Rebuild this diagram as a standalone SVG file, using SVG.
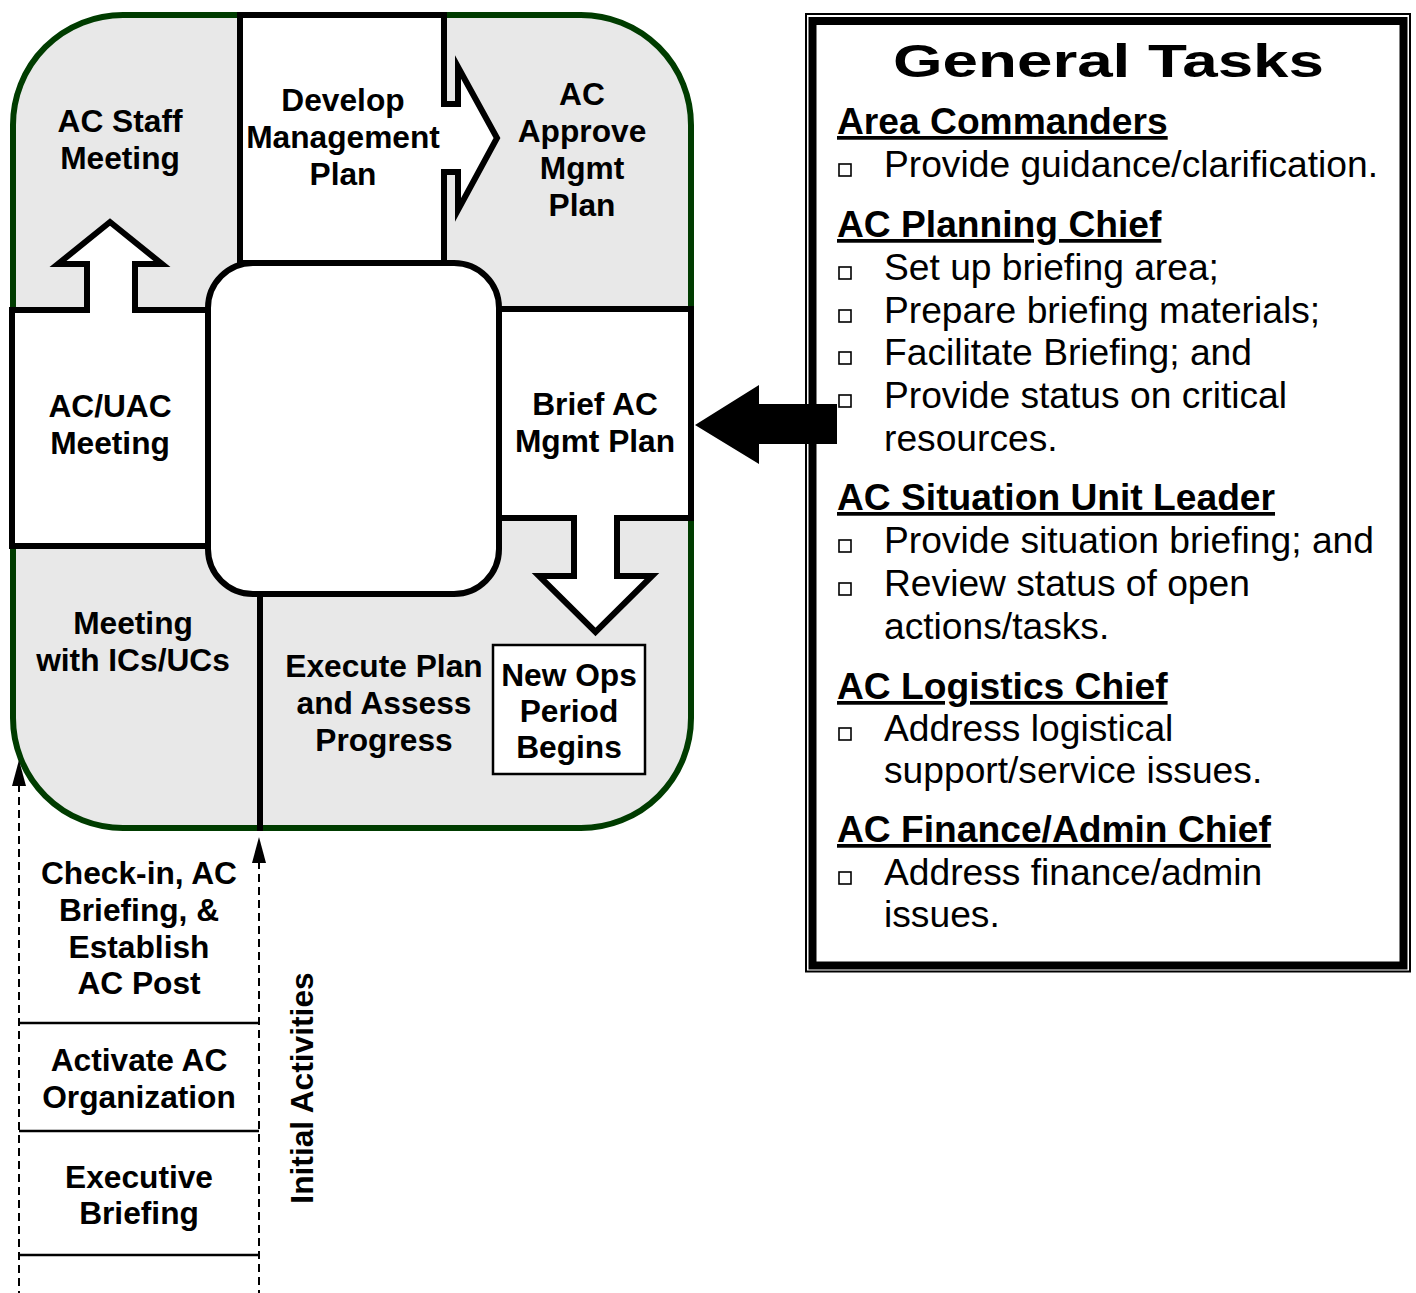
<svg xmlns="http://www.w3.org/2000/svg" width="1416" height="1293" viewBox="0 0 1416 1293">
<defs>
<style>
.lbl{font-family:"Liberation Sans",Arial,Helvetica,sans-serif;font-weight:bold;font-size:31.7px;text-anchor:middle;fill:#000}
.box{fill:#fff;stroke:#000;stroke-width:6}
.arrow{fill:#fff;stroke:#000;stroke-width:6;stroke-linejoin:miter;stroke-miterlimit:10}
.body{font-family:"Liberation Sans",Arial,Helvetica,sans-serif;font-size:37.2px;fill:#000}
.head{font-weight:bold;text-decoration:underline}
.dash{stroke:#000;stroke-width:2;stroke-dasharray:8 5;fill:none}
.sep{stroke:#000;stroke-width:2.5}
.bul{fill:#fff;stroke:#000;stroke-width:1.6}
</style>
<rect id="b" class="bul" x="0" y="0" width="12" height="12"/>
</defs>
<rect width="1416" height="1293" fill="#fff"/>

<g id="cycle-frame">
<rect x="13" y="15" width="678" height="813" rx="110" ry="110" fill="#e8e8e8" stroke="#003c00" stroke-width="6"/>
</g>

<g id="develop-plan">
<rect class="box" x="240" y="15" width="204" height="248"/>
<path class="arrow" d="M441,104 H458 V67 L497,138 L458,210 V172 H441"/>
<text class="lbl" x="343" y="111">Develop</text>
<text class="lbl" x="343" y="148">Management</text>
<text class="lbl" x="343" y="185">Plan</text>
</g>

<g id="ac-uac-meeting">
<rect class="box" x="12" y="310" width="196" height="236"/>
<path class="arrow" d="M87,313 V264 H58 L110,222 L162,264 H135 V313"/>
<text class="lbl" x="110" y="417">AC/UAC</text>
<text class="lbl" x="110" y="454">Meeting</text>
</g>

<g id="brief-plan">
<rect class="box" x="499" y="309" width="192" height="209"/>
<path class="arrow" d="M574,515 V576 H539 L595.5,632 L652,576 H617 V515"/>
<text class="lbl" x="595" y="415">Brief AC</text>
<text class="lbl" x="595" y="452">Mgmt Plan</text>
</g>

<g id="center">
<rect class="box" x="208" y="263" width="291" height="331" rx="45" ry="45"/>
<line x1="260" y1="594" x2="260" y2="831" stroke="#000" stroke-width="6"/>
</g>

<g id="ac-staff-meeting">
<text class="lbl" x="120" y="132">AC Staff</text>
<text class="lbl" x="120" y="169">Meeting</text>
</g>

<g id="ac-approve">
<text class="lbl" x="582" y="105">AC</text>
<text class="lbl" x="582" y="142">Approve</text>
<text class="lbl" x="582" y="179">Mgmt</text>
<text class="lbl" x="582" y="216">Plan</text>
</g>

<g id="meeting-ics">
<text class="lbl" x="133" y="634">Meeting</text>
<text class="lbl" x="133" y="671">with ICs/UCs</text>
</g>

<g id="execute-plan">
<text class="lbl" x="384" y="677">Execute Plan</text>
<text class="lbl" x="384" y="714">and Assess</text>
<text class="lbl" x="384" y="751">Progress</text>
</g>

<g id="new-ops">
<rect x="493" y="645" width="152" height="129" fill="#fff" stroke="#000" stroke-width="2.5"/>
<text class="lbl" x="569" y="686">New Ops</text>
<text class="lbl" x="569" y="722">Period</text>
<text class="lbl" x="569" y="758">Begins</text>
</g>

<g id="initial-activities">
<line class="sep" x1="19" y1="1023" x2="259" y2="1023"/>
<line class="sep" x1="19" y1="1131" x2="259" y2="1131"/>
<line class="sep" x1="19" y1="1255" x2="259" y2="1255"/>
<text class="lbl" x="139" y="884">Check-in, AC</text>
<text class="lbl" x="139" y="921">Briefing, &amp;</text>
<text class="lbl" x="139" y="958">Establish</text>
<text class="lbl" x="139" y="994">AC Post</text>
<text class="lbl" x="139" y="1071">Activate AC</text>
<text class="lbl" x="139" y="1108">Organization</text>
<text class="lbl" x="139" y="1188">Executive</text>
<text class="lbl" x="139" y="1224">Briefing</text>
<text class="lbl" transform="translate(313,1088) rotate(-90)" x="0" y="0">Initial Activities</text>
</g>

<g id="connectors">
<line class="dash" x1="19" y1="784" x2="19" y2="1293"/>
<polygon points="19,760 12,786 26,786" fill="#000"/>
<line class="dash" x1="259" y1="861" x2="259" y2="1293"/>
<polygon points="259,837 252,863 266,863" fill="#000"/>
<polygon points="837,404 759,404 759,385 695,425 759,464 759,444 837,444" fill="#000"/>
</g>

<g id="general-tasks">
<rect x="806" y="14" width="604" height="957.5" fill="none" stroke="#000" stroke-width="2"/>
<rect x="812.5" y="21" width="591" height="944.5" fill="none" stroke="#000" stroke-width="8"/>
<polygon points="837,404 759,404 759,444 837,444" fill="#000"/>
<text x="1108.5" y="77" textLength="431" lengthAdjust="spacingAndGlyphs" style="font-family:'Liberation Sans',Arial,sans-serif;font-weight:bold;font-size:46px;text-anchor:middle">General Tasks</text>
<g class="body">
<text class="head" x="837" y="134">Area Commanders</text>
<use href="#b" x="839" y="164"/><text x="884" y="177">Provide guidance/clarification.</text>
<text class="head" x="837" y="237">AC Planning Chief</text>
<use href="#b" x="839" y="267"/><text x="884" y="280">Set up briefing area;</text>
<use href="#b" x="839" y="310"/><text x="884" y="323">Prepare briefing materials;</text>
<use href="#b" x="839" y="352"/><text x="884" y="365">Facilitate Briefing; and</text>
<use href="#b" x="839" y="395"/><text x="884" y="408">Provide status on critical</text>
<text x="884" y="451">resources.</text>
<text class="head" x="837" y="510">AC Situation Unit Leader</text>
<use href="#b" x="839" y="540"/><text x="884" y="553">Provide situation briefing; and</text>
<use href="#b" x="839" y="583"/><text x="884" y="596">Review status of open</text>
<text x="884" y="639">actions/tasks.</text>
<text class="head" x="837" y="699">AC Logistics Chief</text>
<use href="#b" x="839" y="728"/><text x="884" y="741">Address logistical</text>
<text x="884" y="783">support/service issues.</text>
<text class="head" x="837" y="842">AC Finance/Admin Chief</text>
<use href="#b" x="839" y="872"/><text x="884" y="885">Address finance/admin</text>
<text x="884" y="927">issues.</text>
</g>
</g>
</svg>
